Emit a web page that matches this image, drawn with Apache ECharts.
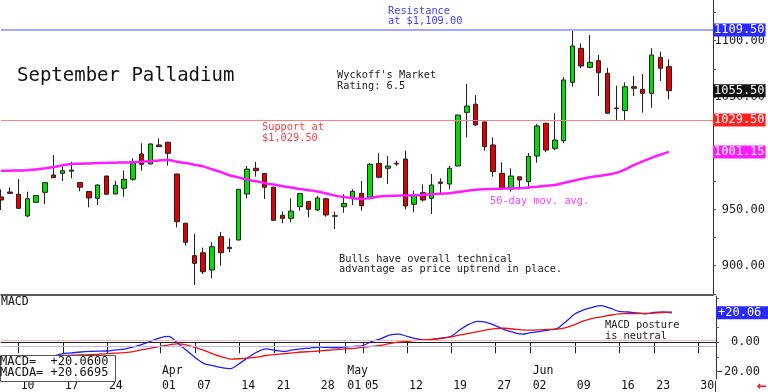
<!DOCTYPE html>
<html><head><meta charset="utf-8">
<script src="https://cdn.jsdelivr.net/npm/echarts@6/dist/echarts.min.js"></script>
<style>html,body{margin:0;padding:0;background:#fff}#c{width:768px;height:392px}</style>
</head><body><div id="c"></div>
<script>
const tradingDays = [
 '2025-03-06','2025-03-07','2025-03-10','2025-03-11','2025-03-12','2025-03-13','2025-03-14','2025-03-17','2025-03-18','2025-03-19',
 '2025-03-20','2025-03-21','2025-03-24','2025-03-25','2025-03-26','2025-03-27','2025-03-28','2025-03-31',
 '2025-04-01','2025-04-02','2025-04-03','2025-04-04','2025-04-07','2025-04-08','2025-04-09','2025-04-10','2025-04-11','2025-04-14',
 '2025-04-15','2025-04-16','2025-04-17','2025-04-21','2025-04-22','2025-04-23','2025-04-24','2025-04-25','2025-04-28','2025-04-29','2025-04-30',
 '2025-05-01','2025-05-02','2025-05-05','2025-05-06','2025-05-07','2025-05-08','2025-05-09','2025-05-12','2025-05-13','2025-05-14',
 '2025-05-15','2025-05-16','2025-05-19','2025-05-20','2025-05-21','2025-05-22','2025-05-23','2025-05-27','2025-05-28','2025-05-29','2025-05-30',
 '2025-06-02','2025-06-03','2025-06-04','2025-06-05','2025-06-06','2025-06-09','2025-06-10','2025-06-11','2025-06-12','2025-06-13',
 '2025-06-16','2025-06-17','2025-06-18','2025-06-20','2025-06-23','2025-06-24','2025-06-25','2025-06-26','2025-06-27','2025-06-30',
 '2025-07-01','2025-07-02'
];
const opens = [961.1, 965.5, 963.5, 944.2, 956.3, 965.2, 980.6, 982.1, 984.0, 974.0,
 966.0, 959.9, 979.7, 963.7, 968.8, 976.8, 999.3, 990.4, 1007.3, 1009.7,
 981.5, 937.7, 908.9, 911.5, 896.2, 925.8, 915.1, 922.8, 963.7, 986.6,
 982.0, 969.7, 944.8, 942.1, 952.4, 956.9, 949.5, 959.5, 944.0, 952.4,
 960.8, 964.3, 959.9, 991.0, 986.6, 991.0, 994.8, 954.6, 964.9, 959.9,
 974.4, 972.6, 988.6, 1036.3, 1043.5, 1027.8, 1007.3, 982.1, 968.2, 979.0,
 974.7, 997.5, 1026.6, 1004.3, 1011.1, 1063.0, 1093.2, 1076.3, 1082.2, 1071.0,
 1040.2, 1037.8, 1059.1, 1056.8, 1053.2, 1085.2, 1076.9];
const closes = [958.4, 964.3, 951.0, 959.5, 962.3, 973.8, 978.2, 984.4, 985.0, 969.7,
 960.2, 971.7, 963.5, 971.5, 976.8, 992.2, 990.1, 1008.2, 1005.8, 999.9,
 939.1, 920.8, 902.1, 894.6, 916.9, 911.5, 916.3, 967.9, 985.9, 984.4,
 969.7, 940.3, 942.1, 948.6, 964.1, 950.1, 960.2, 945.1, 944.4, 955.4,
 966.1, 953.3, 990.1, 978.6, 988.6, 990.4, 953.1, 962.8, 958.4, 971.7,
 973.2, 986.6, 1033.9, 1041.9, 1025.1, 1005.8, 983.6, 968.8, 979.7, 976.2,
 997.2, 1024.2, 1002.8, 1011.7, 1065.1, 1095.3, 1077.5, 1080.8, 1071.5, 1035.5,
 1039.7, 1059.1, 1057.7, 1053.2, 1087.3, 1075.5, 1055.5];
const lows = [949.5, 964.0, 950.4, 943.0, 955.7, 954.6, 978.0, 975.3, 977.7, 966.1,
 951.9, 953.9, 963.3, 963.5, 961.3, 975.5, 984.4, 990.1, 1005.6, 988.9,
 934.1, 917.8, 882.8, 892.6, 888.8, 900.0, 912.2, 922.6, 959.9, 979.1,
 959.3, 940.0, 937.7, 938.6, 948.9, 943.0, 948.6, 943.5, 932.6, 947.1,
 953.9, 948.9, 959.0, 977.7, 972.6, 988.6, 950.1, 947.5, 956.9, 945.9,
 963.7, 967.9, 988.4, 1014.1, 1024.4, 1002.2, 979.1, 967.3, 965.8, 967.9,
 968.8, 991.5, 1000.8, 1002.8, 1008.8, 1059.1, 1075.5, 1075.5, 1050.8, 1035.3,
 1029.5, 1029.5, 1050.8, 1036.0, 1040.4, 1064.2, 1047.9];
const highs = [967.9, 969.7, 977.1, 965.8, 962.8, 974.3, 998.4, 988.0, 992.4, 974.3,
 966.3, 972.3, 980.0, 975.5, 984.8, 995.5, 1008.8, 1008.8, 1013.2, 1010.2,
 981.7, 938.2, 928.2, 916.0, 920.8, 929.9, 924.3, 968.1, 988.6, 992.4,
 982.3, 970.2, 948.3, 959.9, 964.3, 957.5, 961.9, 960.4, 948.0, 963.5,
 967.9, 975.3, 991.0, 999.9, 997.5, 993.3, 1002.2, 966.6, 972.3, 981.5,
 977.7, 988.6, 1034.1, 1061.5, 1051.7, 1028.0, 1014.1, 991.9, 986.6, 979.2,
 1000.2, 1025.9, 1027.1, 1035.5, 1067.5, 1109.5, 1097.7, 1105.1, 1087.3, 1076.0,
 1060.0, 1063.0, 1068.6, 1070.4, 1093.3, 1090.2, 1083.5];
const ma50 = [984.4, 984.5, 984.6, 984.9, 985.5, 986.5, 987.7, 989.3, 990.3, 990.6,
 990.9, 991.2, 991.4, 991.6, 991.7, 991.9, 992.3, 992.9, 993.6, 994.0,
 992.4, 991.2, 989.8, 988.3, 985.7, 983.2, 980.4, 978.5, 976.5, 975.0,
 973.4, 972.1, 970.7, 969.5, 968.2, 967.1, 966.0, 964.2, 962.3, 961.0,
 960.0, 959.3, 960.2, 961.5, 962.0, 962.2, 962.4, 962.6, 963.0, 963.5,
 964.0, 964.4, 965.5, 966.5, 967.4, 967.9, 968.2, 968.5, 968.8, 968.8,
 969.5, 970.2, 971.0, 971.8, 973.5, 975.3, 977.0, 978.6, 979.8, 980.9,
 982.5, 985.5, 989.3, 992.7, 995.8, 998.6, 1001.15];
const macd = [-13, -12.5, -12, -11.5, -11, -10.5, -9.5, -7.8, -7.3, -6.7,
 -6.3, -6.1, -6.0, -5.3, -4.7, -3.2, -1.5, 0.7, 3.0, 4.0,
 -0.5, -5.5, -10.5, -14.6, -16.0, -17.3, -18.0, -14.6, -10.5, -6.7,
 -4.5, -5.5, -6.3, -5.3, -4.5, -4.0, -3.3, -3.5, -3.8, -3.2,
 -2.8, -2.3, 0.5, 2.2, 4.9, 5.5, 4.0, 2.5, 1.5, 2.0,
 2.9, 4.0, 8.5, 12.2, 14.2, 13.5, 11.3, 8.6, 6.8, 5.5,
 6.5, 7.2, 8.3, 9.3, 14.0, 19.2, 22.0, 23.8, 25.0, 23.2,
 21.0, 20.6, 20.0, 19.4, 20.3, 20.6, 20.06];
const macda = [-10.5, -10.3, -10.1, -9.9, -9.7, -9.5, -9.3, -9.1, -8.9, -8.7,
 -8.5, -8.3, -7.8, -7.5, -7.1, -6.4, -5.1, -4.0, -2.9, -1.8,
 -1.2, -1.8, -3.6, -5.6, -8.0, -10.0, -11.5, -11.3, -10.9, -10.2,
 -9.1, -8.5, -7.9, -7.3, -6.7, -6.4, -6.0, -5.5, -5.1, -4.6,
 -4.2, -3.6, -2.9, -2.2, -1.0, 0.0, 0.6, 1.2, 1.6, 2.0,
 2.6, 3.6, 5.0, 6.0, 7.2, 8.4, 9.2, 9.5, 9.0, 8.4,
 8.2, 8.4, 8.7, 8.9, 10.0, 12.0, 14.5, 16.3, 17.3, 18.4,
 19.3, 19.5, 19.6, 19.7, 19.8, 20.2, 20.6695];
const tickDates = ['2025-03-10','2025-03-17','2025-03-24','2025-04-01','2025-04-07','2025-04-14','2025-04-21','2025-04-28',
 '2025-05-01','2025-05-05','2025-05-12','2025-05-19','2025-05-27','2025-06-02','2025-06-09','2025-06-16','2025-06-23','2025-06-30'];
const monthStarts = ['2025-04-01','2025-05-01','2025-06-02'];
const monthNames = ['Apr','May','Jun'];
const priceLabels = [900, 950, 1000, 1050, 1100];
const priceTicks = [875, 900, 925, 950, 975, 1000, 1025, 1050, 1075, 1100, 1125];
const macdLabels = [-20, 0, 20];
const macdTicks = [-20, -10, 0, 10, 20, 30];
const resistanceLevel = 1109.5;
const supportLevel = 1029.5;
const macdGuides = [1.1, -2.7];

const FONT = '"DejaVu Sans Mono", monospace';
const tickSet = new Set(tickDates);
const n = opens.length;
const candleData = tradingDays.map((d, i) => i < n ? [opens[i], closes[i], lows[i], highs[i]] : '-');
const lastClose = closes[n - 1];
const lastMA = ma50[n - 1];
const lastMacd = macd[n - 1];
const lastMacda = macda[n - 1];
const sgn = v => (v >= 0 ? '+' : '') + v.toFixed(4);
const HIDDEN_LINE = { color: 'rgba(0,0,0,0)', width: 1, type: 'solid' };

const tagLabel = (txt, bg, pad) => ({
  show: true, position: 'end', distance: 0, formatter: txt, color: '#fff',
  backgroundColor: bg, fontFamily: FONT, fontSize: 12, lineHeight: 12,
  padding: pad || [1, 1, 0, 1]
});

const chart = echarts.init(document.getElementById('c'));
chart.setOption({
  animation: false,
  backgroundColor: '#fff',
  grid: [
    { left: 1, right: 52, top: 0, height: 295 },
    { left: 1, right: 52, top: 296, height: 85 }
  ],
  xAxis: [
    { gridIndex: 0, type: 'category', data: tradingDays, boundaryGap: false,
      axisLine: { show: true, lineStyle: { color: '#222', width: 1.5 } },
      axisTick: { show: false }, axisLabel: { show: false }, splitLine: { show: false } },
    { gridIndex: 1, type: 'category', data: tradingDays, boundaryGap: false, position: 'bottom',
      axisLine: { show: true, lineStyle: { color: '#222', width: 1 } },
      axisTick: { show: true, interval: (i, v) => tickSet.has(v), length: 11, lineStyle: { color: '#222' } },
      axisLabel: { show: true, interval: (i, v) => tickSet.has(v), formatter: v => v.slice(8),
        align: 'left', padding: [0, 0, 0, 2], margin: 1, fontFamily: FONT, fontSize: 11.5, color: '#111' },
      splitLine: { show: false } },
    { gridIndex: 1, type: 'category', data: tradingDays, boundaryGap: false, position: 'bottom',
      axisLine: { show: false }, axisTick: { show: false }, splitLine: { show: false },
      axisLabel: { show: true, inside: true, interval: (i, v) => monthStarts.indexOf(v) >= 0,
        formatter: v => monthNames[monthStarts.indexOf(v)] || '',
        align: 'left', padding: [0, 0, 0, 2], margin: 2, fontFamily: FONT, fontSize: 11.5, color: '#111' } }
  ],
  yAxis: [
    { gridIndex: 0, type: 'value', position: 'right', min: 873.95, max: 1136.17,
      splitLine: { show: false },
      axisLine: { show: true, lineStyle: { color: '#333' } },
      axisTick: { show: true, customValues: priceTicks, length: 3, lineStyle: { color: '#555' } },
      axisLabel: { customValues: priceLabels, formatter: v => v.toFixed(2), align: 'right', margin: 52,
        fontFamily: FONT, fontSize: 12, color: '#222' } },
    { gridIndex: 1, type: 'value', position: 'right', min: -25.13, max: 31.53,
      splitLine: { show: false },
      axisLine: { show: true, lineStyle: { color: '#333' } },
      axisTick: { show: true, customValues: macdTicks, length: 3, lineStyle: { color: '#555' } },
      axisLabel: { customValues: macdLabels, formatter: v => v.toFixed(2), align: 'right', margin: 44,
        fontFamily: FONT, fontSize: 12, color: '#222' } }
  ],
  series: [
    { type: 'candlestick', xAxisIndex: 0, yAxisIndex: 0, data: candleData, barWidth: 5,
      itemStyle: { color: '#00dd00', color0: '#e00000', borderColor: '#222', borderColor0: '#222', borderWidth: 1 },
      markLine: { symbol: ['none', 'none'], silent: true, animation: false,
        data: [
          { yAxis: resistanceLevel, lineStyle: { color: '#a5a5ff', width: 2, type: 'solid' },
            label: tagLabel(resistanceLevel.toFixed(2), '#2a2aff') },
          { yAxis: supportLevel, lineStyle: { color: '#ff8080', width: 1, type: 'solid' },
            label: tagLabel(supportLevel.toFixed(2), '#ff2020') },
          { yAxis: lastClose, lineStyle: HIDDEN_LINE,
            label: tagLabel(lastClose.toFixed(2), '#111') }
        ] } },
    { type: 'line', xAxisIndex: 0, yAxisIndex: 0, data: ma50, symbol: 'none', smooth: 0.4,
      lineStyle: { color: '#ff1aff', width: 2.5 }, z: 3,
      markLine: { symbol: ['none', 'none'], silent: true, animation: false,
        data: [ { yAxis: lastMA, lineStyle: HIDDEN_LINE, label: tagLabel(lastMA.toFixed(2), '#ff1aff') } ] } },
    { type: 'line', xAxisIndex: 1, yAxisIndex: 1, data: macd, symbol: 'none', smooth: 0.3,
      lineStyle: { color: '#1f1fff', width: 1.3 },
      markLine: { symbol: ['none', 'none'], silent: true, animation: false,
        data: [
          { yAxis: macdGuides[0], lineStyle: { color: '#ffb4b4', width: 1, type: 'solid' }, label: { show: false } },
          { yAxis: macdGuides[1], lineStyle: { color: '#b8b8ff', width: 1, type: 'solid' }, label: { show: false } },
          { yAxis: lastMacd, lineStyle: HIDDEN_LINE,
            label: tagLabel('+' + lastMacd.toFixed(2), '#2a2aff', [1, 8, 0, 2]) }
        ] } },
    { type: 'line', xAxisIndex: 1, yAxisIndex: 1, data: macda, symbol: 'none', smooth: 0.3,
      lineStyle: { color: '#ee1111', width: 1.3 } }
  ],
  graphic: [
    { type: 'text', x: 17, y: 76, z: 100, style: { text: 'September Palladium', font: '19px ' + FONT, fill: '#111', verticalAlign: 'middle' } },
    { type: 'text', x: 388, y: 6, z: 100, style: { text: 'Resistance\nat $' + '1,109.00', font: '10.3px ' + FONT, lineHeight: 10.5, fill: '#4040ff', verticalAlign: 'top' } },
    { type: 'text', x: 337, y: 70.5, z: 100, style: { text: "Wyckoff's Market\nRating: 6.5", font: '10.3px ' + FONT, lineHeight: 10.5, fill: '#222', verticalAlign: 'top' } },
    { type: 'text', x: 262, y: 122.5, z: 100, style: { text: 'Support at\n$1,029.50', font: '10.3px ' + FONT, lineHeight: 10.5, fill: '#ff4040', verticalAlign: 'top' } },
    { type: 'text', x: 490, y: 201, z: 100, style: { text: '50-day mov. avg.', font: '10.3px ' + FONT, fill: '#ff44ff', verticalAlign: 'middle' } },
    { type: 'text', x: 339, y: 254, z: 100, style: { text: 'Bulls have overall technical\nadvantage as price uptrend in place.', font: '10.3px ' + FONT, lineHeight: 10.5, fill: '#222', verticalAlign: 'top' } },
    { type: 'text', x: 605, y: 320.5, z: 100, style: { text: 'MACD posture\nis neutral', font: '10.3px ' + FONT, lineHeight: 10.5, fill: '#222', verticalAlign: 'top' } },
    { type: 'text', x: 1, y: 302.5, z: 100, style: { text: 'MACD', font: '11.5px ' + FONT, fill: '#111', verticalAlign: 'middle' } },
    { type: 'rect', z: 100, shape: { x: 0.5, y: 355.5, width: 115, height: 26 }, style: { fill: '#fff', stroke: '#555', lineWidth: 1 } },
    { type: 'text', x: 0, y: 356, z: 101, style: { text: 'MACD=  ' + sgn(lastMacd) + '\nMACDA= ' + sgn(lastMacda), font: '12px ' + FONT, lineHeight: 11, fill: '#111', verticalAlign: 'top' } },
    { type: 'line', z: 100, shape: { x1: 715.5, y1: 381, x2: 715.5, y2: 392 }, style: { stroke: '#333', lineWidth: 1 } },
    { type: 'text', x: 757, y: 387, z: 100, style: { text: '\u2190', font: 'bold 12px "DejaVu Sans"', fill: '#ee1111', verticalAlign: 'middle' } }
  ]
});
</script>
</body></html>
